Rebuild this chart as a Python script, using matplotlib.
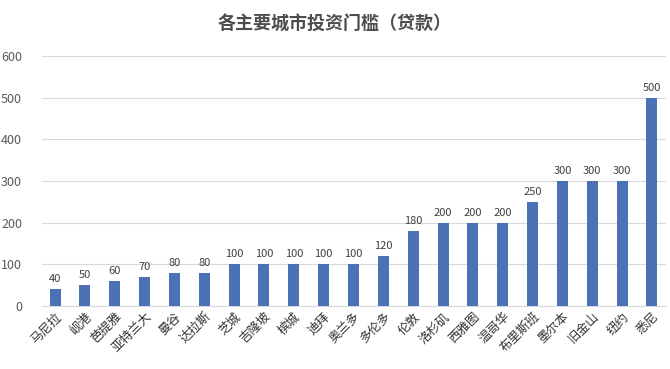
import matplotlib
matplotlib.use("Agg")
import matplotlib.pyplot as plt

plt.rcParams['font.family'] = ['Noto Sans CJK SC', 'DejaVu Sans']

# ── Data ──────────────────────────────────────────────────────────────────────
cities = ["马尼拉", "岘港", "芭提雅", "亚特兰大", "曼谷", "达拉斯", "芝城",
          "吉隆坡", "槟城", "迪拜", "奥兰多", "多伦多", "伦敦", "洛杉矶",
          "西雅图", "温哥华", "布里斯班", "墨尔本", "旧金山", "纽约", "悉尼"]
values = [40, 50, 60, 70, 80, 80, 100, 100, 100, 100, 100, 120, 180, 200,
          200, 200, 250, 300, 300, 300, 500]
yticks = [0, 100, 200, 300, 400, 500, 600]

fig = plt.figure(figsize=(6.7, 3.69), dpi=100)
ax = fig.add_axes([0.062, 0.171, 0.932, 0.677])

x = range(len(cities))
ax.bar(x, values, width=0.37, color="#4a72b5", zorder=3)

for xi, v in zip(x, values):
    ax.text(xi, v + 12, str(v), ha="center", va="bottom",
            fontsize=8, color="#404040")

ax.set_ylim(0, 600)
ax.set_xlim(-0.452, len(cities) - 0.53)
ax.set_yticks(yticks)
ax.tick_params(axis="y", length=0, labelsize=9, labelcolor="#595959", pad=14)
ax.grid(axis="y", color="#d9d9d9", linewidth=0.8, zorder=0)
ax.set_xticks(list(x))
ax.set_xticklabels(cities, rotation=45, ha="right", rotation_mode="anchor",
                   fontsize=9, color="#333333")
ax.tick_params(axis="x", length=0, pad=3)

for s in ["top", "right", "left"]:
    ax.spines[s].set_visible(False)
ax.spines["bottom"].set_color("#d9d9d9")

fig.text(0.5, 0.935, "各主要城市投资门槛（贷款）", ha="center", va="center",
         fontsize=13, color="#4d4d4d", fontweight="bold")

fig.savefig("out.png", dpi=100)
